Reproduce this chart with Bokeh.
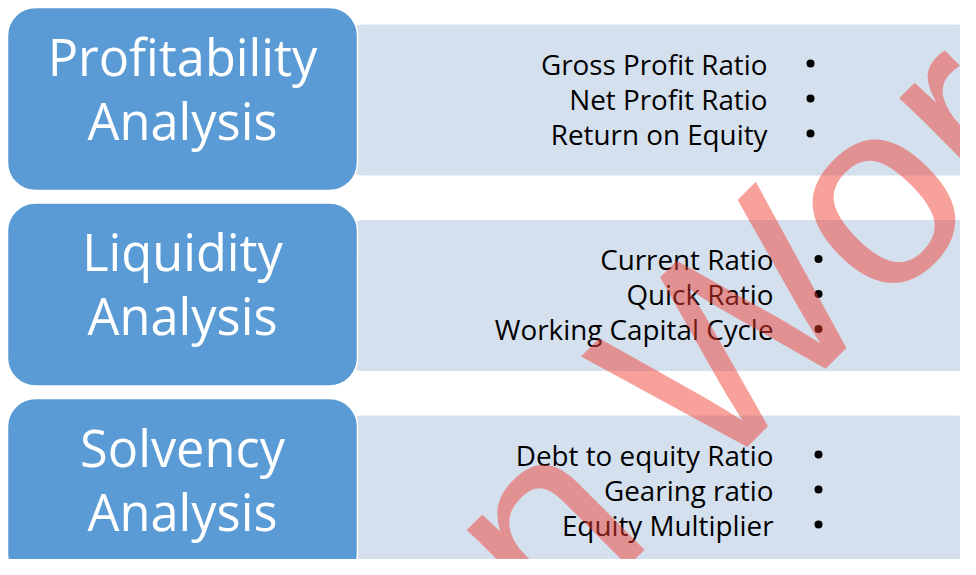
from bokeh.plotting import figure
from bokeh.models import Range1d
from bokeh.core.properties import value
from bokeh.embed import file_html
from bokeh.resources import INLINE

# ---------------- content ----------------
categories = ["Profitability", "Liquidity", "Solvency"]
category_suffix = "Analysis"
items = [
    ["Gross Profit Ratio", "Net Profit Ratio", "Return on Equity"],
    ["Current Ratio", "Quick Ratio", "Working Capital Cycle"],
    ["Debt to equity Ratio", "Gearing ratio", "Equity Multiplier"],
]
watermark = "n Wor"

# ---------------- layout (pixels) ----------------
W, H = 960, 559
PITCH = 195.5
DARK_TOP0 = 7
DARK_H = 183
DARK_L, DARK_R = 7, 357
LIGHT_DY = 17
LIGHT_H = 151
LIGHT_L, LIGHT_R = 340, 978
TITLE_X = 182
TITLE_BASE1, TITLE_BASE2 = 68, 132
TEXT_RIGHT = [767, 773, 773]
BULLET_X = [810, 818, 818]
ITEM_BASE0 = 50
LINE_GAP = 35
BULLET_UP = 11
TITLE_PX, ITEM_PX, WM_PX = 50.5, 27.8, 264
BASE_FIX = 0.38   # em offset of the renderer's baseline placement
WM_X, WM_Y, WM_ANGLE = 735, 329, 0.785

DARK = "#5B9BD5"
LIGHT = "#D5E0EE"
FONT = "Open Sans"

p = figure(width=W, height=H, x_range=Range1d(0, W), y_range=Range1d(H, 0),
           x_axis_type=None, y_axis_type=None, toolbar_location=None,
           output_backend="svg", min_border=0)
p.outline_line_color = None
p.background_fill_color = "white"
p.border_fill_color = "white"

n = len(categories)
dark_top = [DARK_TOP0 + i * PITCH for i in range(n)]
light_top = [t + LIGHT_DY for t in dark_top]

# light panels
p.quad(left=[LIGHT_L] * n, right=[LIGHT_R] * n,
       top=light_top, bottom=[t + LIGHT_H for t in light_top],
       fill_color=LIGHT, line_color=None, border_radius=22)

# dark category boxes
p.quad(left=[DARK_L] * n, right=[DARK_R] * n,
       top=dark_top, bottom=[t + DARK_H for t in dark_top],
       fill_color=DARK, line_color="white", line_width=1.5, border_radius=28)

# category titles
tx, ty, tt = [], [], []
for i, c in enumerate(categories):
    tx += [TITLE_X, TITLE_X]
    ty += [dark_top[i] + TITLE_BASE1 - BASE_FIX * TITLE_PX,
           dark_top[i] + TITLE_BASE2 - BASE_FIX * TITLE_PX]
    tt += [c, category_suffix]
p.text(x=tx, y=ty, text=tt, text_color="white", text_font=value(FONT),
       text_font_size=f"{TITLE_PX}px", text_align="center", text_baseline="alphabetic")

# item texts and bullets
ix, iy, it, bx, by = [], [], [], [], []
for i, group in enumerate(items):
    for k, s in enumerate(group):
        base = light_top[i] + ITEM_BASE0 + k * LINE_GAP
        ix.append(TEXT_RIGHT[i]); iy.append(base - BASE_FIX * ITEM_PX); it.append(s)
        bx.append(BULLET_X[i]); by.append(base - BULLET_UP)
p.text(x=ix, y=iy, text=it, text_color="black", text_font=value(FONT),
       text_font_size=f"{ITEM_PX}px", text_align="right", text_baseline="alphabetic")
p.scatter(x=bx, y=by, size=8, marker="circle", fill_color="black", line_color=None)

# watermark
p.text(x=[WM_X], y=[WM_Y], text=[watermark], text_color="#F03B2D", text_alpha=0.48,
       text_font=value("Liberation Sans"), text_font_size=f"{WM_PX}px",
       text_align="center", text_baseline="alphabetic", angle=WM_ANGLE)

open("out.html", "w").write(file_html(p, INLINE))
